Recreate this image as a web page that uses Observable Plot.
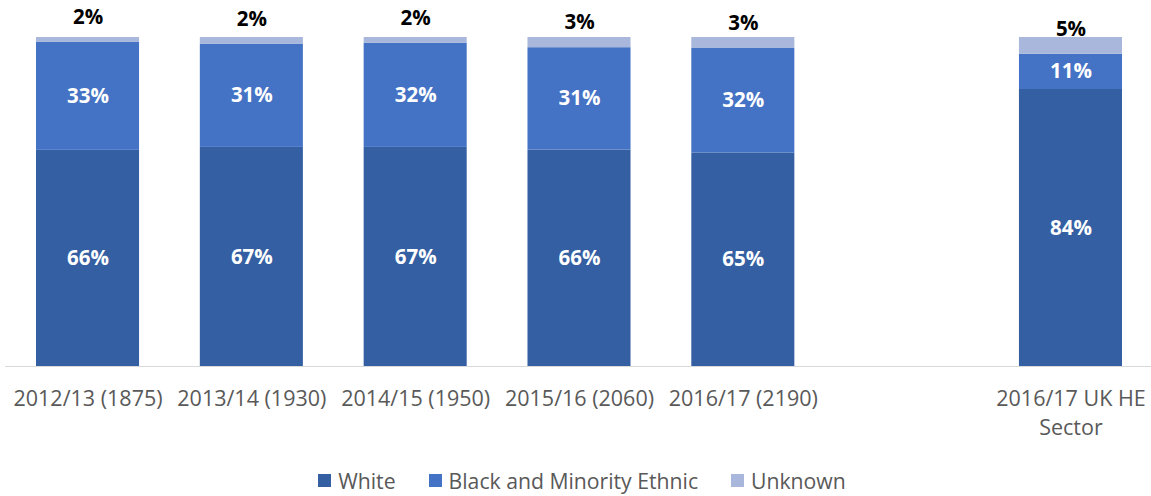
<!DOCTYPE html>
<html>
<head>
<meta charset="utf-8">
<script src="https://cdn.jsdelivr.net/npm/d3@7"></script>
<script src="https://cdn.jsdelivr.net/npm/@observablehq/plot@0.6"></script>
<style>
  body { margin: 0; background: #fff; font-family: "Open Sans", sans-serif; }
  #legend { display: flex; justify-content: center; align-items: center; height: 50px; font-size: 21.2px; color: #595959; padding-left: 13px; }
  #legend .item { display: flex; align-items: center; margin-right: 33px; }
  #legend .item:last-child { margin-right: 0; }
  #legend .sw { width: 13px; height: 13px; margin-right: 7px; }
</style>
</head>
<body>
<div id="chart"></div>
<div id="legend"></div>
<script>
const categories = ["2012/13 (1875)", "2013/14 (1930)", "2014/15 (1950)", "2015/16 (2060)", "2016/17 (2190)", "2016/17 UK HE Sector"];
const spacer = " ";
const xDomain = [...categories.slice(0, 5), spacer, categories[5]];
const series = ["White", "Black and Minority Ethnic", "Unknown"];
const colors = ["#355FA3", "#4472C4", "#A9B7DC"];
const whiteVals = [65.7, 66.6, 66.6, 65.8, 64.9, 84.2];
const bmeVals = [32.8, 31.4, 31.6, 31.1, 31.9, 10.7];
const unknownVals = [1.5, 2.0, 1.8, 3.1, 3.2, 5.1];

const rows = [];
categories.forEach((c, i) => {
  rows.push({cat: c, series: "White", value: whiteVals[i]});
  rows.push({cat: c, series: "Black and Minority Ethnic", value: bmeVals[i]});
  rows.push({cat: c, series: "Unknown", value: unknownVals[i]});
});

const font = "'Open Sans', sans-serif";
const chartEl = Plot.plot({
  width: 1151,
  height: 455,
  marginLeft: 20,
  marginRight: 13,
  marginTop: 37,
  marginBottom: 89,
  style: {fontFamily: font},
  x: {domain: xDomain, paddingInner: 0.371, paddingOuter: 0.0977, round: false, label: null},
  y: {domain: [0, 100], axis: null},
  color: {domain: series, range: colors},
  marks: [
    Plot.barY(rows, {x: "cat", y: "value", fill: "series", order: series}),
    Plot.ruleY([0], {stroke: "#d9d9d9", strokeWidth: 1, insetLeft: -15, insetRight: -13}),
    Plot.text(rows, Plot.stackY({
      x: "cat", y: "value", z: "series", order: series,
      text: d => d.series !== "Unknown" ? Math.round(d.value) + "%" : null,
      fill: "white", fontWeight: "bold", fontSize: 20.5
    })),
    Plot.text(rows, Plot.stackY1({
      x: "cat", y: "value", z: "series", order: series,
      text: d => d.series === "Unknown" ? Math.round(d.value) + "%" : null,
      fill: "black", fontWeight: "bold", fontSize: 20.5, dy: -25
    })),
    Plot.axisX({
      tickSize: 0, tickPadding: 19, fontSize: 21.5, fill: "#595959",
      lineHeight: 1.35,
      tickFormat: d => d === "2016/17 UK HE Sector" ? "2016/17 UK HE\nSector" : d
    })
  ]
});
document.getElementById("chart").appendChild(chartEl);

const legend = document.getElementById("legend");
series.forEach((s, i) => {
  const item = document.createElement("div");
  item.className = "item";
  const sw = document.createElement("div");
  sw.className = "sw";
  sw.style.background = colors[i];
  item.appendChild(sw);
  item.appendChild(document.createTextNode(s));
  legend.appendChild(item);
});
</script>
</body>
</html>
